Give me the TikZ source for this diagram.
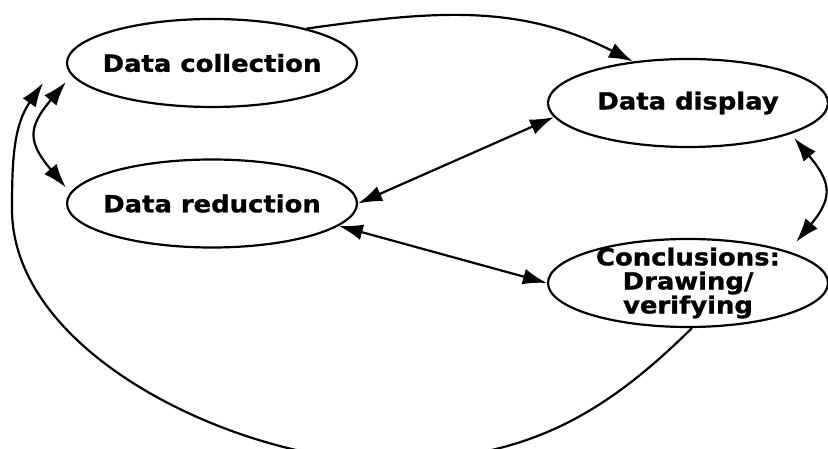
\documentclass[tikz,border=0pt]{standalone}
\usepackage{fontspec}
\usetikzlibrary{arrows.meta}
\usetikzlibrary{shapes.geometric}
\usetikzlibrary{calc}
\newfontfamily\stagefont[FakeStretch=1.1, BoldFeatures={FakeBold=1.2}]{DejaVu Sans}
\tikzset{>={Latex[length=24pt, width=16pt]}}
\tikzset{
  stage/.style = {draw, ellipse, line width = 2.2pt, minimum height = 88pt, inner sep = 0pt},
  stagetext/.style = {font = \stagefont\bfseries\fontsize{23.5}{24}\selectfont, align = center, inner sep = 0pt},
  link/.style = {line width = 2.2pt}
}

\begin{document}
\begin{tikzpicture}[x = 1pt, y = 1pt]
\useasboundingbox (0, 0) rectangle (828, 449);
\clip (0, 0) rectangle (828, 449);

\node[stage, minimum width = 290pt, label = {[stagetext]center:Data collection}] (coll) at (212, 386) {};
\node[stage, minimum width = 290pt, label = {[stagetext]center:Data reduction}] (red) at (212, 245.5) {};
\node[stage, minimum width = 280pt, label = {[stagetext]center:Data display}] (disp) at (688, 346) {};
\node[stage, minimum width = 280pt, label = {[stagetext]center:{Conclusions:\\Drawing/\\verifying}}] (concl) at (688, 166) {};

\draw[link, ->] (coll.20) to[out = 8, in = 153] (disp.143);
\draw[link, <->] ($(coll.west)+(0,-19)$) to[out = 230, in = 130, looseness = 1.45] ($(red.west)+(0,16)$);
\draw[link, <->] (red.east) -- (disp.186);
\draw[link, <->] (red.-10) -- (concl.west);
\draw[link, <->] ($(disp.east)+(-35,-35)$) to[out = -50, in = 50, looseness = 1.42] ($(concl.east)+(-33,41)$);

% long way back round the bottom
\coordinate (backtip) at (43, 366);
\draw[link, ->] (concl.-85) .. controls (599, 29) and (520, -12) .. (385, -12)
  .. controls (243, -12) and (12, 92) .. (12, 240)
  .. controls (12, 291) and (14, 324) .. (backtip);

\end{tikzpicture}
\end{document}
